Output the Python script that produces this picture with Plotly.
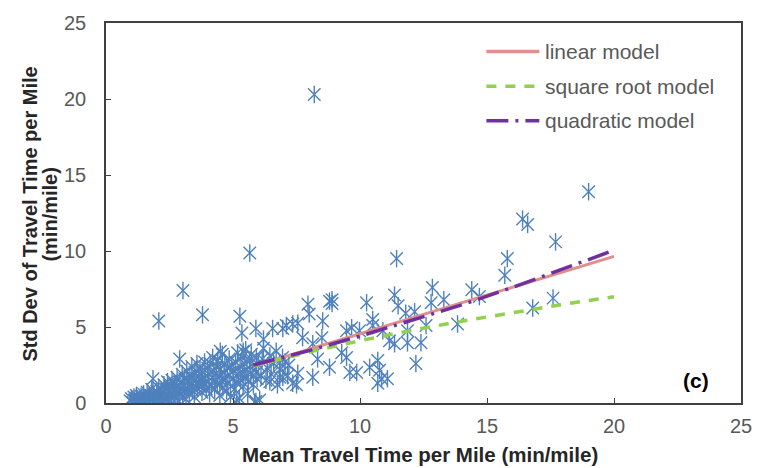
import plotly.graph_objects as go

# Observed segments: mean travel time per mile vs. its standard deviation (min/mile)
mean_tt = [
    0.95, 1.0, 1.05, 1.1, 1.12, 1.18, 1.2, 1.25, 1.3, 1.35, 1.38, 1.42, 1.48, 1.5,
    1.55, 1.6, 1.62, 1.68, 1.7, 1.75, 1.8, 1.82, 1.88, 1.9, 1.95, 2.0, 2.02, 2.08, 2.1, 2.15, 2.18, 2.2,
    2.25, 2.28, 2.3, 2.35, 2.38, 2.42, 2.45, 2.5, 2.52, 2.55, 2.6, 2.62, 2.68, 2.7, 2.75, 2.78, 2.8,
    2.85, 2.88, 2.9, 2.95, 3.0,
    3.02, 3.05, 3.08, 3.1, 3.15, 3.18, 3.2, 3.25, 3.28, 3.3, 3.35, 3.38, 3.4, 3.45, 3.48, 3.5, 3.55,
    3.58, 3.6, 3.65, 3.68, 3.7, 3.75, 3.78, 3.8, 3.85, 3.88, 3.9, 3.95, 4.0,
    4.02, 4.05, 4.08, 4.1, 4.15, 4.18, 4.2, 4.25, 4.28, 4.3, 4.35, 4.38, 4.4, 4.45, 4.48, 4.5, 4.55,
    4.58, 4.6, 4.65, 4.68, 4.7, 4.75, 4.78, 4.8, 4.85, 4.88, 4.9, 4.95, 5.0,
    5.02, 5.05, 5.1, 5.12, 5.18, 5.2, 5.25, 5.28, 5.3, 5.35, 5.38, 5.4, 5.45, 5.48, 5.5, 5.55, 5.58,
    5.6, 5.65, 5.7, 5.72, 5.78, 5.8, 5.85, 5.9, 5.92, 5.95, 6.0, 6.05, 6.1,
    6.15, 6.2, 6.3, 6.35, 6.45, 6.5, 6.6, 6.7, 6.75, 6.85, 6.95, 7.05, 7.15,
    1.85, 2.9, 4.5, 5.4, 5.15, 5.9, 6.45, 6.96, 7.35, 3.8, 5.27, 5.35, 5.9, 6.56, 6.96, 6.2, 7.35,
    2.08, 3.03, 5.66, 8.2,
    11.44, 15.7, 12.85, 14.4, 14.7, 11.36, 13.3, 12.8, 8.9, 8.8, 8.9, 7.95, 10.26, 11.5, 12.15,
    11.8, 8.0, 8.53, 7.55, 7.1, 9.67, 10.5, 10.5, 9.47, 9.98, 10.9, 11.87, 12.6, 13.84, 11.87,
    12.4, 11.16, 11.36, 7.74, 8.5, 8.14, 9.28, 9.47, 8.33, 8.8, 7.2, 7.55, 8.14, 6.84, 9.6, 9.87,
    10.38, 10.7, 10.77, 10.85, 11.08, 10.7, 12.2, 7.5, 6.84,
    19.0, 16.4, 16.6, 17.7, 15.8, 17.6, 16.8,
]
std_tt = [
    0.15, 0.3, 0.05, 0.4, 0.2, 0.1, 0.5, 0.3, 0.15, 0.05, 0.45, 0.25, 0.6, 0.1,
    0.35, 0.2, 0.7, 0.05, 0.5, 0.3, 0.9, 0.15, 0.6, 0.4, 0.1, 0.75, 0.3, 1.0, 0.5, 0.2, 0.85, 0.05,
    0.6, 1.2, 0.35, 0.9, 0.15, 1.4, 0.7, 0.45, 1.1, 0.2, 1.5, 0.85, 0.55, 1.25, 0.3, 1.0, 1.7,
    0.65, 0.1, 1.35, 0.9, 1.9,
    0.45, 1.2, 0.8, 1.6, 0.25, 2.1, 1.0, 1.45, 0.6, 1.8, 1.15, 2.4, 0.85, 1.6, 0.4, 2.0, 1.3,
    2.6, 0.95, 1.75, 1.1, 2.25, 1.5, 0.7, 2.0, 1.25, 2.7, 1.65, 0.9, 2.3,
    1.4, 1.9, 0.6, 2.6, 1.1, 1.7, 3.0, 2.1, 0.9, 1.5, 2.4, 1.25, 2.8, 1.8, 0.5, 2.2, 1.45,
    3.2, 1.0, 2.0, 2.6, 1.6, 0.8, 2.3, 1.3, 2.9, 1.85, 0.4, 2.5, 1.6,
    2.1, 0.9, 2.7, 1.35, 3.3, 1.9, 0.3, 2.4, 1.5, 3.0, 2.0, 1.1, 2.6, 1.7, 3.5, 2.2, 0.6,
    1.4, 2.8, 1.9, 3.2, 2.4, 1.2, 0.05, 2.0, 3.0, 1.6, 2.5, 0.2, 1.8,
    2.9, 3.6, 1.5, 2.3, 3.1, 1.9, 2.6, 3.4, 1.2, 2.2, 3.0, 2.7, 1.8,
    1.6, 2.9, 3.4, 3.4, 0.2, 0.1, 1.4, 1.7, 1.3, 5.8, 5.7, 4.6, 4.9, 4.9, 4.9, 4.2, 5.2,
    5.4, 7.4, 9.87, 20.3,
    9.5, 8.4, 7.6, 7.45, 7.0, 7.1, 6.8, 6.6, 6.8, 6.7, 6.55, 6.5, 6.6, 6.4, 6.0,
    5.9, 5.85, 5.4, 5.25, 5.1, 4.95, 5.5, 5.1, 4.75, 4.75, 4.75, 4.75, 5.1, 5.2, 3.96,
    3.96, 4.1, 3.9, 4.3, 4.3, 3.9, 3.3, 3.0, 2.9, 2.35, 2.5, 1.95, 1.7, 1.7, 2.0, 2.0,
    2.35, 2.8, 2.15, 1.6, 1.6, 1.3, 2.6, 1.2, 2.65,
    13.9, 12.1, 11.75, 10.6, 9.5, 6.9, 6.25,
]

# Fitted model curves (min/mile)
linear_x = [5.8, 20.0]
linear_y = [2.41, 9.65]
sqrt_x = [5.8, 8.0, 10.0, 12.0, 14.0, 16.0, 18.0, 20.0]
sqrt_y = [2.43, 3.36, 4.10, 4.77, 5.38, 5.95, 6.49, 6.99]
quad_x = [5.8, 8.0, 10.0, 12.0, 14.0, 16.0, 18.0, 20.0]
quad_y = [2.50, 3.45, 4.40, 5.40, 6.45, 7.60, 8.80, 10.05]

x_ticks = [0, 5, 10, 15, 20, 25]
y_ticks = [0, 5, 10, 15, 20, 25]

legend_names = ["linear model", "square root model", "quadratic model"]
legend_colors = ["#E0908C", "#92D050", "#7030A0"]
legend_dashes = ["solid", "10px,9px", "22px,7px,3px,7px"]

FONT = "Liberation Sans"
AXIS_COL = "#404040"
TEXT_COL = "#595959"
MARK_COL = "#4F81BD"

fig = go.Figure()

# Six-spoke asterisk: an X plus a vertical stroke at every observation
for sym in ("x-thin-open", "line-ns-open"):
    fig.add_trace(go.Scatter(
        x=mean_tt, y=std_tt, mode="markers",
        marker=dict(symbol=sym, size=12.5, color=MARK_COL,
                    line=dict(color=MARK_COL, width=1.4)),
        showlegend=False, hoverinfo="skip" if sym == "line-ns-open" else None,
    ))

fig.add_trace(go.Scatter(x=linear_x, y=linear_y, mode="lines",
                         line=dict(color=legend_colors[0], width=3, dash=legend_dashes[0]),
                         showlegend=False))
fig.add_trace(go.Scatter(x=sqrt_x, y=sqrt_y, mode="lines",
                         line=dict(color=legend_colors[1], width=3.5, dash=legend_dashes[1]),
                         showlegend=False))
fig.add_trace(go.Scatter(x=quad_x, y=quad_y, mode="lines",
                         line=dict(color=legend_colors[2], width=3.5, dash=legend_dashes[2]),
                         showlegend=False))

# Legend drawn as sample lines plus labels in paper space
W, H = 764, 468
L, R, T, B = 106, 22, 18, 65
pw, ph = W - L - R, H - T - B

def px_x(p):
    return (p - L) / pw

def px_y(p):
    return (H - B - p) / ph

shapes = []
annotations = []
for i, (name, col, dash) in enumerate(zip(legend_names, legend_colors, legend_dashes)):
    yy = 47 + 35 * i
    shapes.append(dict(type="line", xref="paper", yref="paper",
                       x0=px_x(487), x1=px_x(540), y0=px_y(yy), y1=px_y(yy),
                       line=dict(color=col, width=3.5, dash=dash)))
    annotations.append(dict(text=name, xref="paper", yref="paper",
                            x=px_x(544), y=px_y(yy), xanchor="left", yanchor="middle",
                            showarrow=False, font=dict(family=FONT, size=21, color=TEXT_COL)))

annotations.append(dict(text="<b>(c)</b>", xref="paper", yref="paper",
                        x=px_x(697), y=px_y(380), xanchor="center", yanchor="middle",
                        showarrow=False, font=dict(family=FONT, size=21, color="#000000")))

annotations.append(dict(text="<b>Mean Travel Time per Mile (min/mile)</b>", xref="paper", yref="paper",
                        x=px_x(420), y=px_y(455), xanchor="center", yanchor="middle",
                        showarrow=False, font=dict(family=FONT, size=20.5, color="#262626")))
annotations.append(dict(text="<b>Std Dev of Travel Time per Mile</b>", xref="paper", yref="paper",
                        x=px_x(30), y=px_y(212), xanchor="center", yanchor="middle", textangle=-90,
                        showarrow=False, font=dict(family=FONT, size=20, color="#262626")))
annotations.append(dict(text="<b>(min/mile)</b>", xref="paper", yref="paper",
                        x=px_x(50), y=px_y(212), xanchor="center", yanchor="middle", textangle=-90,
                        showarrow=False, font=dict(family=FONT, size=20, color="#262626")))

axis_common = dict(
    showgrid=False, zeroline=False, showline=True, linecolor=AXIS_COL, linewidth=1.5,
    mirror=True, ticks="inside", ticklen=5, tickwidth=1.2, tickcolor=AXIS_COL,
    tickfont=dict(family=FONT, size=20, color=TEXT_COL),
)

fig.update_layout(
    width=W, height=H,
    margin=dict(l=L, r=R, t=T, b=B),
    paper_bgcolor="white", plot_bgcolor="white",
    xaxis=dict(range=[0, 25], tickvals=x_ticks, ticklabelstandoff=4, **axis_common),
    yaxis=dict(range=[0, 25], tickvals=y_ticks, ticklabelstandoff=14, **axis_common),
    shapes=shapes, annotations=annotations,
    showlegend=False,
)

fig.write_html("out.html")
